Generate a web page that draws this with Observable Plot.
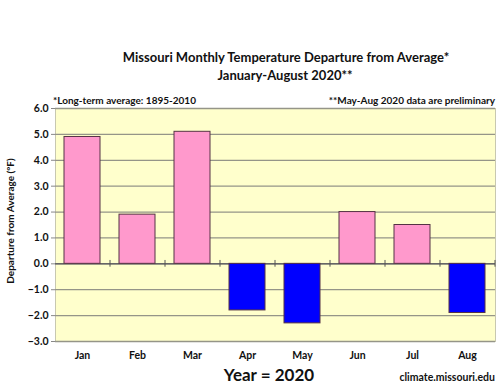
<!DOCTYPE html>
<html><head><meta charset="utf-8">
<script src="https://cdn.jsdelivr.net/npm/d3@7"></script>
<script src="https://cdn.jsdelivr.net/npm/@observablehq/plot@0.6"></script>
<style>
body{margin:0;background:#fff;font-family:Lato,"Open Sans",sans-serif;}
#wrap{position:relative;width:500px;height:386px;}
.t{position:absolute;font-weight:bold;color:#111;white-space:nowrap;line-height:1;}
</style></head>
<body><div id="wrap"></div>
<script>
const months = ["Jan","Feb","Mar","Apr","May","Jun","Jul","Aug"];
const departures = [4.9, 1.9, 5.1, -1.8, -2.3, 2.0, 1.5, -1.9];
const yTicks = [-3,-2,-1,0,1,2,3,4,5,6];
const titleLines = ["Missouri Monthly Temperature Departure from Average*","January-August 2020**"];
const noteLeft = "*Long-term average: 1895-2010";
const noteRight = "**May-Aug 2020 data are preliminary";
const yLabel = "Departure from Average (°F)";
const xLabel = "Year = 2020";
const credit = "climate.missouri.edu";

const data = months.map((m,i)=>({month:m, value:departures[i]}));
const W=500,H=386,mL=55,mR=5,mT=108,mB=45;
const step=(W-mL-mR)/months.length;

const plot = Plot.plot({
  width:W,height:H,marginLeft:mL,marginRight:mR,marginTop:mT,marginBottom:mB,
  style:{fontFamily:"Lato,'Open Sans',sans-serif",fontSize:"10.5px",fontWeight:"bold",color:"#111",background:"transparent"},
  x:{domain:months,paddingInner:0.34,paddingOuter:0.17,label:null},
  y:{domain:[-3,6],label:null},
  marks:[
    Plot.frame({fill:"#FFFFCC",stroke:"#c8c8b0"}),
    Plot.gridY(yTicks,{stroke:"#959588",strokeOpacity:1,strokeWidth:1.3}),
    Plot.ruleY([0],{stroke:"#666",strokeWidth:1.5}),
    Plot.ruleX(months,{x:d=>d,dx:step/2,y1:-0.13,y2:0.13,stroke:"#555"}),
    Plot.barY(data,{x:"month",y:"value",fill:d=>d.value>=0?"#FF99CC":"#0000FF",stroke:"#553344",strokeWidth:1}),
    Plot.axisY({ticks:yTicks,tickFormat:d3.format(".1f"),tickSize:4,tickPadding:3,stroke:"#888"}),
    Plot.ruleX([0],{frameAnchor:"left",stroke:"#888"}),
    Plot.axisX({tickSize:0,tickPadding:10})
  ]
});
plot.style.position="absolute";plot.style.left="0";plot.style.top="0";
const wrap=document.getElementById("wrap");
wrap.appendChild(plot);
function addText(txt,css){const d=document.createElement("div");d.className="t";d.textContent=txt;Object.assign(d.style,css);wrap.appendChild(d);return d;}
addText(titleLines[0],{left:"0",width:"572px",top:"51px",fontSize:"13px",textAlign:"center"});
addText(titleLines[1],{left:"0",width:"570px",top:"69px",fontSize:"13px",textAlign:"center"});
addText(noteLeft,{left:"53px",top:"95px",fontSize:"10px"});
addText(noteRight,{right:"5px",top:"95px",fontSize:"10px"});
addText(xLabel,{left:"0",width:"538px",top:"366px",fontSize:"17px",textAlign:"center"});
addText(credit,{right:"5px",top:"372px",fontSize:"10.5px"});
addText(yLabel,{left:"10px",top:"221px",fontSize:"10px",transform:"translate(-50%,-50%) rotate(-90deg)"});
</script></body></html>
